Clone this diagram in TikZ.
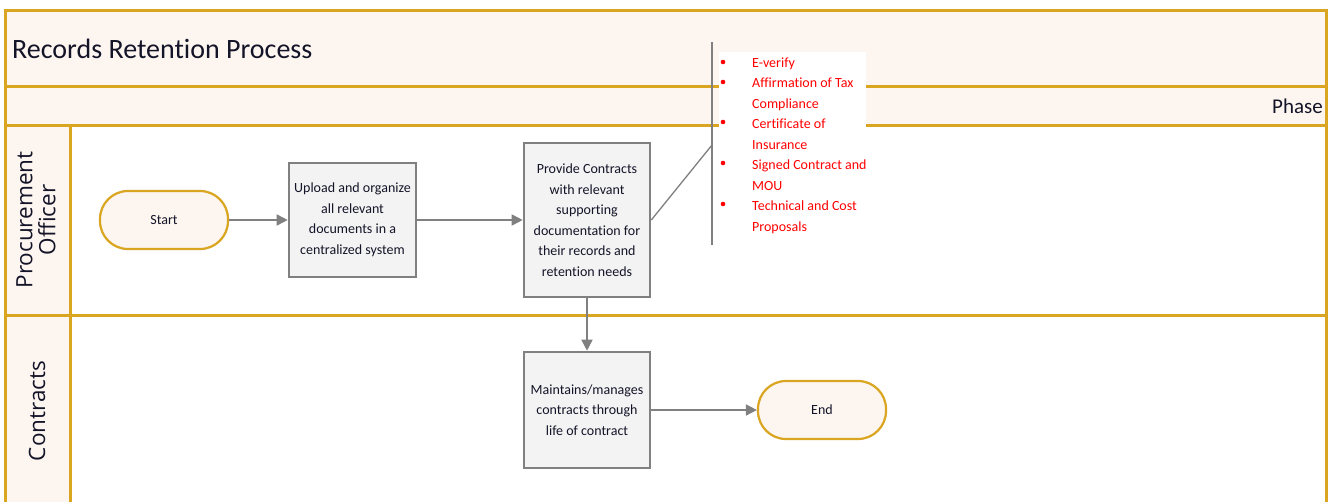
\documentclass[tikz,border=0pt]{standalone}
\usepackage{fontspec}
\setmainfont{Carlito}[Ligatures=NoCommon]
\newfontfamily\lanefont{Open Sans}[Ligatures=NoCommon]
\usetikzlibrary{arrows.meta}
\definecolor{gold}{RGB}{218,165,32}
\definecolor{cream}{RGB}{253,246,240}
\definecolor{boxfill}{RGB}{243,243,243}
\definecolor{boxline}{RGB}{128,128,128}
\definecolor{txt}{RGB}{20,20,40}
\definecolor{redtxt}{RGB}{255,0,0}
\begin{document}
\begin{tikzpicture}[x=1pt,y=-1pt,
  lane/.style={draw=gold,line width=3pt},
  procbox/.style={draw=boxline,fill=boxfill,line width=2.6pt,inner sep=2pt,align=center,
    text=txt,font=\fontsize{14}{20.5}\selectfont},
  term/.style={draw=gold,fill=cream,line width=2.2pt,rounded corners=28pt,minimum width=128pt,
    minimum height=58pt,text=txt,font=\fontsize{14}{15}\selectfont},
  flow/.style={draw=boxline,line width=1.6pt,-{Triangle[length=11pt,width=11pt]}},
  bul/.style={anchor=base west,text=redtxt,font=\fontsize{14}{15}\selectfont,inner sep=0pt},
  lanelbl/.style={rotate=90,align=center,font=\lanefont\fontsize{22.5}{23}\selectfont,text=txt}]
\useasboundingbox (0,0) rectangle (1328,501);
\fill[white] (0,0) rectangle (1328,501);
% header bands
\fill[cream] (5,10) rectangle (1326,125);
\fill[cream] (5,125) rectangle (70,510);
% lines
\draw[lane] (5,510) -- (5,10) -- (1326,10) -- (1326,510);
\draw[lane] (5,86) -- (1326,86);
\draw[lane] (5,125) -- (1326,125);
\draw[lane] (5,315) -- (1326,315);
\draw[lane] (70,125) -- (70,510);
% titles
\node[anchor=base west,inner sep=0pt,font=\fontsize{28}{30}\selectfont,text=txt] (title) at (12,58) {Records Retention Process};
\node[anchor=base east,inner sep=0pt,font=\fontsize{21}{24}\selectfont,text=txt] (phase) at (1323,113) {Phase};
\node[lanelbl] (lane1) at (36,220) {Procurement\\Officer};
\node[lanelbl] (lane2) at (37,411) {Contracts};
% nodes
\node[term] (start) at (164,220) {Start};
\node[procbox,minimum width=127pt,minimum height=114pt] (up) at (352.5,220) {Upload and organize\\all relevant\\documents in a\\centralized system};
\node[procbox,minimum width=126pt,minimum height=154pt] (prov) at (587,220) {Provide Contracts\\with relevant\\supporting\\documentation for\\their records and\\retention needs};
\node[procbox,minimum width=126pt,minimum height=116pt] (maint) at (587,410) {Maintains/manages\\contracts through\\life of contract};
\node[term] (end) at (822,410) {End};
% flows
\draw[flow] (start.east) -- (up.west);
\draw[flow] (up.east) -- (prov.west);
\draw[flow] (prov.south) -- (maint.north);
\draw[flow] (maint.east) -- (end.west);
% annotation
\coordinate (brktop) at (712,42);
\coordinate (brkbot) at (712,245);
\coordinate (brk) at (712,145);
\draw[boxline,line width=1.3pt] (prov.east) -- (brk);
\draw[boxline,line width=1.3pt] (brktop) -- (brkbot);
\fill[white] (719,52) rectangle (866,128);
\foreach \yy in {62,82,122,163,204} \fill[redtxt] (723,\yy) circle (2.3pt);
\node[bul] (a1) at (752,67) {E-verify};
\node[bul] (a2) at (752,87.5) {Affirmation of Tax};
\node[bul] (a3) at (752,108) {Compliance};
\node[bul] (a4) at (752,128.5) {Certificate of};
\node[bul] (a5) at (752,149) {Insurance};
\node[bul] (a6) at (752,169.5) {Signed Contract and};
\node[bul] (a7) at (752,190) {MOU};
\node[bul] (a8) at (752,210.5) {Technical and Cost};
\node[bul] (a9) at (752,231) {Proposals};
\end{tikzpicture}
\end{document}
